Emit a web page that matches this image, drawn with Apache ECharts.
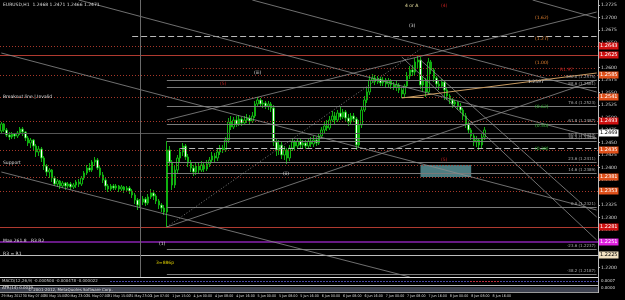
<!DOCTYPE html>
<html>
<head>
<meta charset="utf-8">
<script src="https://cdn.jsdelivr.net/npm/echarts@6/dist/echarts.min.js"></script>
<style>
  html, body { margin: 0; padding: 0; background: #000; }
  #chart { width: 625px; height: 300px; }
</style>
</head>
<body>
<div id="chart"></div>
<script>
// EURUSD H1, 29 May 23:00 .. 8 Jun 2012
const opens = [
  1.2473,1.2487,1.2475,1.2465,1.2461,1.2467,1.2463,1.2469,1.2477,1.2471,
  1.2459,1.2449,1.2455,1.2443,1.2431,1.2437,1.2419,1.2403,1.2391,1.2395,
  1.2379,1.2367,1.2373,1.2363,1.2369,1.2363,1.2367,1.2361,1.2365,1.2371,
  1.2367,1.2379,1.2389,1.2399,1.2395,1.2411,1.2415,1.2399,1.2385,1.2375,
  1.2363,1.2357,1.2363,1.2359,1.2363,1.2357,1.2361,1.2355,1.2359,1.2353,
  1.2345,1.2335,1.2325,1.2331,1.2337,1.2329,1.2341,1.2349,1.2343,1.2333,
  1.2325,1.2319,1.2311,1.2435,1.2411,1.2365,1.2395,1.2419,1.2431,1.2443,
  1.2421,1.2409,1.2399,1.2391,1.2403,1.2395,1.2405,1.2397,1.2407,1.2415,
  1.2423,1.2419,1.2431,1.2439,1.2435,1.2455,1.2491,1.2481,1.2495,1.2487,
  1.2497,1.2489,1.2495,1.2499,1.2493,1.2503,1.2527,1.2535,1.2527,1.2529,
  1.2523,1.2527,1.2519,1.2451,1.2435,1.2445,1.2425,1.2435,1.2419,1.2439,
  1.2451,1.2443,1.2453,1.2445,1.2449,1.2443,1.2453,1.2447,1.2455,1.2449,
  1.2463,1.2475,1.2483,1.2479,1.2495,1.2503,1.2495,1.2509,1.2501,1.2511,
  1.2499,1.2491,1.2503,1.2497,1.2445,1.2485,1.2515,1.2535,1.2551,1.2575,
  1.2579,1.2571,1.2577,1.2569,1.2575,1.2567,1.2573,1.2565,1.2561,1.2565,
  1.2555,1.2547,1.2563,1.2583,1.2595,1.2591,1.2611,1.2615,1.2565,1.2575,
  1.2551,1.2611,1.2595,1.2579,1.2567,1.2563,1.2571,1.2555,1.2543,1.2535,
  1.2527,1.2531,1.2523,1.2515,1.2503,1.2487,1.2475,1.2463,1.2451,1.2455,
  1.2445,1.2461
];
const closes = [
  1.2487,1.2475,1.2465,1.2461,1.2467,1.2463,1.2469,1.2477,1.2471,1.2459,
  1.2449,1.2455,1.2443,1.2431,1.2437,1.2419,1.2403,1.2391,1.2395,1.2379,
  1.2367,1.2373,1.2363,1.2369,1.2363,1.2367,1.2361,1.2365,1.2371,1.2367,
  1.2379,1.2389,1.2399,1.2395,1.2411,1.2415,1.2399,1.2385,1.2375,1.2363,
  1.2357,1.2363,1.2359,1.2363,1.2357,1.2361,1.2355,1.2359,1.2353,1.2345,
  1.2335,1.2325,1.2331,1.2337,1.2329,1.2341,1.2349,1.2343,1.2333,1.2325,
  1.2319,1.2311,1.2435,1.2411,1.2365,1.2395,1.2419,1.2431,1.2443,1.2421,
  1.2409,1.2399,1.2391,1.2403,1.2395,1.2405,1.2397,1.2407,1.2415,1.2423,
  1.2419,1.2431,1.2439,1.2435,1.2455,1.2491,1.2481,1.2495,1.2487,1.2497,
  1.2489,1.2495,1.2499,1.2493,1.2503,1.2527,1.2535,1.2527,1.2529,1.2523,
  1.2527,1.2519,1.2451,1.2435,1.2445,1.2425,1.2435,1.2419,1.2439,1.2451,
  1.2443,1.2453,1.2445,1.2449,1.2443,1.2453,1.2447,1.2455,1.2449,1.2463,
  1.2475,1.2483,1.2479,1.2495,1.2503,1.2495,1.2509,1.2501,1.2511,1.2499,
  1.2491,1.2503,1.2497,1.2445,1.2485,1.2515,1.2535,1.2551,1.2575,1.2579,
  1.2571,1.2577,1.2569,1.2575,1.2567,1.2573,1.2565,1.2561,1.2565,1.2555,
  1.2547,1.2563,1.2583,1.2595,1.2591,1.2611,1.2615,1.2565,1.2575,1.2551,
  1.2611,1.2595,1.2579,1.2567,1.2563,1.2571,1.2555,1.2543,1.2535,1.2527,
  1.2531,1.2523,1.2515,1.2503,1.2487,1.2475,1.2463,1.2451,1.2455,1.2445,
  1.2461,1.2475
];
const lows = [
  1.2469,1.2471,1.2461,1.2455,1.2457,1.2457,1.2459,1.2465,1.2463,1.2453,
  1.2443,1.2439,1.2435,1.2421,1.2423,1.2411,1.2395,1.2383,1.2379,1.2371,
  1.2363,1.2361,1.2357,1.2359,1.2355,1.2359,1.2355,1.2357,1.2359,1.2361,
  1.2363,1.2375,1.2385,1.2391,1.2391,1.2403,1.2395,1.2379,1.2369,1.2355,
  1.2351,1.2353,1.2355,1.2355,1.2351,1.2353,1.2349,1.2351,1.2347,1.2339,
  1.2327,1.2315,1.2321,1.2325,1.2323,1.2325,1.2337,1.2335,1.2327,1.2317,
  1.2311,1.2305,1.2281,1.2403,1.2355,1.2359,1.2387,1.2411,1.2423,1.2415,
  1.2401,1.2391,1.2383,1.2385,1.2389,1.2391,1.2391,1.2393,1.2401,1.2409,
  1.2411,1.2413,1.2425,1.2429,1.2431,1.2449,1.2475,1.2477,1.2481,1.2483,
  1.2483,1.2485,1.2489,1.2487,1.2489,1.2499,1.2523,1.2521,1.2519,1.2517,
  1.2515,1.2511,1.2443,1.2423,1.2425,1.2417,1.2415,1.2407,1.2413,1.2433,
  1.2435,1.2437,1.2439,1.2439,1.2437,1.2439,1.2441,1.2441,1.2443,1.2445,
  1.2457,1.2469,1.2473,1.2475,1.2491,1.2487,1.2491,1.2495,1.2497,1.2491,
  1.2483,1.2485,1.2491,1.2435,1.2439,1.2479,1.2511,1.2529,1.2545,1.2569,
  1.2565,1.2567,1.2563,1.2563,1.2561,1.2561,1.2557,1.2555,1.2553,1.2549,
  1.2539,1.2541,1.2559,1.2577,1.2583,1.2585,1.2599,1.2557,1.2551,1.2541,
  1.2545,1.2587,1.2571,1.2559,1.2555,1.2559,1.2535,1.2535,1.2527,1.2519,
  1.2521,1.2515,1.2509,1.2495,1.2479,1.2467,1.2455,1.2443,1.2441,1.2435,
  1.2439,1.2455
];
const highs = [
  1.2491,1.2489,1.2479,1.2471,1.2471,1.2469,1.2473,1.2481,1.2481,1.2473,
  1.2463,1.2459,1.2457,1.2447,1.2443,1.2441,1.2423,1.2407,1.2399,1.2397,
  1.2383,1.2377,1.2375,1.2373,1.2371,1.2371,1.2371,1.2369,1.2375,1.2377,
  1.2383,1.2393,1.2405,1.2409,1.2415,1.2421,1.2419,1.2403,1.2391,1.2379,
  1.2367,1.2367,1.2367,1.2367,1.2365,1.2365,1.2363,1.2363,1.2363,1.2357,
  1.2349,1.2339,1.2337,1.2343,1.2341,1.2347,1.2357,1.2355,1.2347,1.2337,
  1.2329,1.2325,1.2453,1.2443,1.2415,1.2405,1.2425,1.2439,1.2449,1.2447,
  1.2427,1.2415,1.2405,1.2411,1.2409,1.2413,1.2411,1.2415,1.2421,1.2431,
  1.2429,1.2437,1.2445,1.2445,1.2461,1.2499,1.2503,1.2501,1.2503,1.2505,
  1.2501,1.2503,1.2507,1.2505,1.2511,1.2533,1.2541,1.2539,1.2535,1.2533,
  1.2533,1.2531,1.2525,1.2457,1.2455,1.2451,1.2443,1.2439,1.2445,1.2459,
  1.2455,1.2459,1.2457,1.2455,1.2455,1.2459,1.2461,1.2463,1.2461,1.2469,
  1.2481,1.2491,1.2495,1.2503,1.2513,1.2511,1.2515,1.2521,1.2517,1.2515,
  1.2507,1.2509,1.2509,1.2501,1.2495,1.2523,1.2543,1.2559,1.2583,1.2587,
  1.2585,1.2583,1.2581,1.2581,1.2579,1.2579,1.2577,1.2571,1.2573,1.2569,
  1.2561,1.2567,1.2591,1.2603,1.2605,1.2619,1.2625,1.2621,1.2583,1.2579,
  1.2619,1.2615,1.2599,1.2583,1.2575,1.2577,1.2575,1.2559,1.2547,1.2539,
  1.2535,1.2533,1.2529,1.2519,1.2509,1.2493,1.2479,1.2469,1.2463,1.2459,
  1.2469,1.2481
];

// one label every 8 bars
const timeLabels = [
  '29 May 2012', '30 May 07:00', '30 May 15:00', '30 May 23:00', '31 May 07:00',
  '31 May 15:00', '31 May 23:00', '1 Jun 07:00', '1 Jun 15:00', '4 Jun 00:00',
  '4 Jun 08:00', '4 Jun 16:00', '5 Jun 00:00', '5 Jun 08:00', '5 Jun 16:00',
  '6 Jun 00:00', '6 Jun 08:00', '6 Jun 16:00', '7 Jun 00:00', '7 Jun 08:00',
  '7 Jun 16:00', '8 Jun 00:00', '8 Jun 08:00', '8 Jun 16:00'
];
const slotCount = 224; // bars + empty space on the right

// horizontal levels across the whole chart: [price, kind]
const fullLevels = [
  [1.2643, 'dot'], [1.2625, 'red'], [1.2585, 'dot'], [1.2541, 'dot'],
  [1.2493, 'dot'], [1.2435, 'dot'], [1.2405, 'dot'], [1.2381, 'dot'],
  [1.2353, 'dot'], [1.2281, 'red'], [1.2251, 'magenta'], [1.2225, 'silver'],
  [1.2469, 'grey']
];
const tagColors = {
  1.2643: '#d01010', 1.2625: '#d01010', 1.2585: '#e0501a', 1.2541: '#e0501a',
  1.2493: '#d01010', 1.2435: '#e0501a', 1.2381: '#e0501a', 1.2353: '#e0501a',
  1.2281: '#d01010', 1.2251: '#e020e0', 1.2225: '#f0e0c0', 1.2469: '#ffffff'
};
// levels drawn from the 1 Jun low to the right edge: [price, text]
const fibLevels = [
  [1.2575, '100.0 (1.2575)'], [1.2561, '88.6 (1.2561)'], [1.2523, '76.4 (1.2523)'],
  [1.2487, '61.8 (1.2487)'], [1.2459, '50.0 (1.2459)'], [1.2453, '38.2 (1.2453)'],
  [1.2411, '23.6 (1.2411)'], [1.2389, '14.6 (1.2389)'], [1.2321, '0.0 (1.2321)'],
  [1.2237, '-23.6 (1.2237)'], [1.2187, '-38.2 (1.2187)']
];
const fibStart = 62;
// dashed levels: [startBar, price]
const dashLevels = [[49, 1.2663], [67, 1.2439], [68, 1.2599]];
// trend lines: [bar1, price1, bar2, price2]
const trendLines = [
  [29, 1.2735, 223, 1.2459], [94, 1.2735, 223, 1.2551], [199, 1.2735, 223, 1.2699],
  [0, 1.2629, 223, 1.2315], [0, 1.2391, 153, 1.2181], [62, 1.2281, 223, 1.2575],
  [150, 1.2621, 223, 1.2255], [157, 1.2615, 223, 1.2301], [62, 1.2495, 223, 1.2711]
];
const dottedTrend = [[62, 1.2281, 157, 1.2637]];
const tanLines = [[150, 1.2539, 223, 1.2589], [150, 1.2541, 158, 1.2541]];
const boxZone = [157, 1.2405, 176, 1.2381];
const dayBreakBar = 52;

const categories = Array.from({ length: slotCount }, (_, i) => String(i));
const candles = opens.map((o, i) => [o, closes[i], lows[i], highs[i]]);

const styleFor = {
  dot: { color: '#a8382a', type: [1, 2], width: 1 },
  red: { color: '#b03a30', type: 'solid', width: 1 },
  magenta: { color: '#8a22b0', type: 'solid', width: 1.5 },
  silver: { color: '#bdbdbd', type: 'solid', width: 1 },
  grey: { color: '#555', type: 'solid', width: 1 }
};

const markLines = [];
fullLevels.forEach(([p, kind]) => {
  const tag = tagColors[p];
  markLines.push({
    yAxis: p,
    lineStyle: styleFor[kind],
    label: tag ? {
      show: true, position: 'end', distance: 1, formatter: p.toFixed(4),
      fontSize: 5, fontFamily: 'DejaVu Sans', color: tag === '#ffffff' || tag === '#f0e0c0' ? '#000' : '#fff',
      backgroundColor: tag, padding: [1, 1]
    } : { show: false }
  });
});
fibLevels.forEach(([p, txt]) => {
  markLines.push([
    { coord: [fibStart, p], lineStyle: { color: '#7a7a7a', width: 1, type: 'solid' },
      label: { show: true, position: 'insideEndTop', distance: 1, formatter: txt, fontSize: 4, color: '#aaa', fontFamily: 'DejaVu Sans' } },
    { coord: [slotCount - 1, p] }
  ]);
});
dashLevels.forEach(([b, p]) => {
  markLines.push([
    { coord: [b, p], lineStyle: { color: b === 68 ? '#a8382a' : '#bbbbbb', width: 1, type: b === 68 ? [1, 2] : [6, 3] }, label: { show: false } },
    { coord: [slotCount - 1, p] }
  ]);
});
trendLines.forEach(([b1, p1, b2, p2]) => {
  markLines.push([
    { coord: [b1, p1], lineStyle: { color: '#8c8c8c', width: 0.8, type: 'solid' }, label: { show: false } },
    { coord: [b2, p2] }
  ]);
});
dottedTrend.forEach(([b1, p1, b2, p2]) => {
  markLines.push([
    { coord: [b1, p1], lineStyle: { color: '#9a9a9a', width: 0.8, type: [1, 2] }, label: { show: false } },
    { coord: [b2, p2] }
  ]);
});
tanLines.forEach(([b1, p1, b2, p2]) => {
  markLines.push([
    { coord: [b1, p1], lineStyle: { color: '#c89a60', width: 1, type: 'solid' }, label: { show: false } },
    { coord: [b2, p2] }
  ]);
});
markLines.push({ xAxis: dayBreakBar, lineStyle: { color: '#6a6a6a', width: 1, type: 'solid' }, label: { show: false } });

const txt = (x, y, s, color, size) => ({
  type: 'text', left: x, top: y, z: 20,
  style: { text: s, fill: color || '#ddd', font: (size || 4.5) + 'px "DejaVu Sans"' }
});

const chart = echarts.init(document.getElementById('chart'), null, { renderer: 'canvas' });
chart.setOption({
  backgroundColor: '#000',
  animation: false,
  grid: { left: 0, right: 27, top: 0, height: 280, containLabel: false, outerBoundsMode: 'none' },
  xAxis: {
    type: 'category',
    data: categories,
    boundaryGap: true,
    z: 30,
    axisLine: { show: false },
    axisTick: { show: false },
    splitLine: { show: false },
    axisLabel: {
      interval: 7, margin: 14, align: 'left', fontSize: 3.6, color: '#ddd',
      fontFamily: 'DejaVu Sans Condensed', showMinLabel: true, hideOverlap: false,
      formatter: (v, i) => timeLabels[i / 8] || ''
    }
  },
  yAxis: {
    type: 'value',
    position: 'right',
    min: 1.2175,
    max: 1.2735,
    interval: 0.0025,
    scale: true,
    axisLine: { show: true, lineStyle: { color: '#bbb' } },
    axisTick: { show: true, length: 2, lineStyle: { color: '#bbb' } },
    splitLine: { show: false },
    axisLabel: {
      margin: 3, fontSize: 4.5, color: '#ddd', fontFamily: 'DejaVu Sans',
      showMinLabel: false, showMaxLabel: false,
      formatter: v => v.toFixed(4)
    }
  },
  series: [{
    type: 'candlestick',
    data: candles,
    barWidth: 2,
    itemStyle: {
      color: '#000000',
      color0: '#ffffff',
      borderColor: '#10b010',
      borderColor0: '#10b010',
      borderWidth: 1
    },
    markLine: {
      symbol: ['none', 'none'],
      precision: 4,
      silent: true,
      animation: false,
      data: markLines
    },
    markArea: {
      silent: true,
      itemStyle: { color: '#4d7c80' },
      data: [[{ coord: [boxZone[0], boxZone[1]] }, { coord: [boxZone[2], boxZone[3]] }]]
    }
  }],
  graphic: [
    { type: 'rect', shape: { x: 0, y: 277, width: 625, height: 23 }, z: 10, style: { fill: '#000' } },
    { type: 'line', shape: { x1: 0, y1: 277.5, x2: 598, y2: 277.5 }, z: 11, style: { stroke: '#e0e0e0', lineWidth: 1 } },
    { type: 'line', shape: { x1: 110, y1: 281.5, x2: 598, y2: 281.5 }, z: 11, style: { stroke: '#4a4aa8', lineWidth: 1, lineDash: [2, 1] } },
    { type: 'line', shape: { x1: 470, y1: 281.5, x2: 500, y2: 281.5 }, z: 12, style: { stroke: '#c03040', lineWidth: 1, lineDash: [2, 1] } },
    { type: 'line', shape: { x1: 0, y1: 285.5, x2: 598, y2: 285.5 }, z: 11, style: { stroke: '#bbb', lineWidth: 1 } },
    { type: 'rect', shape: { x: 0, y: 287, width: 598, height: 5 }, z: 11, style: { fill: '#3e4250' } },
    { type: 'line', shape: { x1: 0, y1: 292.5, x2: 598, y2: 292.5 }, z: 11, style: { stroke: '#999', lineWidth: 1 } },
    { type: 'line', shape: { x1: 598.5, y1: 277, x2: 598.5, y2: 293 }, z: 11, style: { stroke: '#bbb', lineWidth: 1 } },
    txt(2, 279, 'MACD(12,26,9) -0.000500 -0.000478 -0.000022', '#ccc', 4),
    txt(2, 286, 'ATR(14) 0.0019', '#ddd', 4),
    txt(28, 288, '\u00a9 2001-2012, MetaQuotes Software Corp.', '#ddd', 4),
    txt(601, 279, '0.0007', '#ddd', 4),
    txt(601, 286, '0.0000', '#ddd', 4),
    txt(3, 2, 'EURUSD,H1  1.2468 1.2471 1.2466 1.2471', '#ddd'),
    txt(3, 94, 'Breakout line | Invalid', '#ddd'),
    txt(3, 160, 'Support', '#ddd'),
    txt(3, 238, 'Max 261.8   R3 R2', '#ddd'),
    txt(3, 251, 'R3 = R1', '#ddd'),
    txt(159, 241, '(1)', '#ddd'),
    txt(156, 260, '3=886p', '#e0d000'),
    txt(254, 70, '(iii)', '#ddd'),
    txt(283, 171, '(ii)', '#ddd'),
    txt(405, 3, '4 or A', '#e8e0a0'),
    txt(409, 23, '(3)', '#ddd'),
    txt(441, 3, '(4)', '#c02020'),
    txt(220, 81, '(5)', '#c02020'),
    txt(441, 157, '(5)', '#c02020'),
    txt(535, 15, '(1.62)', '#e08030'),
    txt(535, 36, '(1.27)', '#e08030'),
    txt(535, 60, '(1.00)', '#e08030'),
    txt(535, 104, '(0.62)', '#40c040'),
    txt(535, 123, '(0.50)', '#40c040'),
    txt(535, 146, '(0.38)', '#40c040'),
    txt(560, 67, 'R1.97', '#d02020'),
    txt(528, 79, '1.2597', '#ddd')
  ]
});
</script>
</body>
</html>
